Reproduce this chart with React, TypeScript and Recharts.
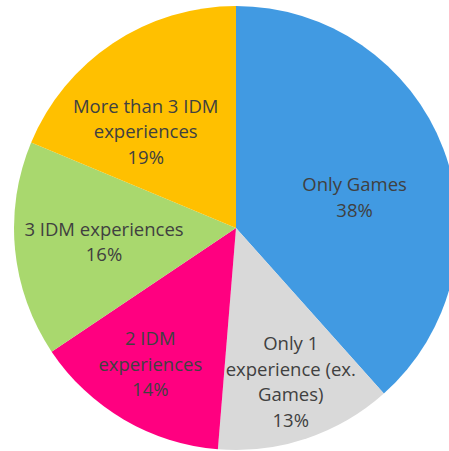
import { PieChart, Pie, Cell } from "recharts";

const categories = [
  "Only Games",
  "Only 1 experience (ex. Games)",
  "2 IDM experiences",
  "3 IDM experiences",
  "More than 3 IDM experiences",
];
const shares = [38.4, 12.9, 14.3, 15.7, 18.7];
const labelLines = [
  ["Only Games"],
  ["Only 1", "experience (ex.", "Games)"],
  ["2 IDM", "experiences"],
  ["3 IDM experiences"],
  ["More than 3 IDM", "experiences"],
];

const colors = ["#419ae2", "#d9d9d9", "#ff0080", "#a9d86e", "#ffc000"];
// small nudges so labels sit where the original placed them
const nudges = [
  [-10, 17],
  [11, 22],
  [-16, 16],
  [5, -1],
  [-14, 17],
];

const data = categories.map((name, i) => ({ name, value: shares[i] }));
const RADIAN = Math.PI / 180;
const LINE_H = 25.5;

function renderLabel(props: any) {
  const { cx, cy, midAngle, outerRadius, index, value } = props;
  const r = outerRadius * 0.62;
  const x = cx + r * Math.cos(-midAngle * RADIAN) + nudges[index][0];
  const y = cy + r * Math.sin(-midAngle * RADIAN) + nudges[index][1];
  const lines = [...labelLines[index], `${Math.round(value)}%`];
  const top = y - ((lines.length - 1) * LINE_H) / 2;
  return (
    <text
      x={x}
      y={top}
      fill="#404040"
      textAnchor="middle"
      dominantBaseline="central"
      style={{ fontFamily: "'Open Sans', sans-serif", fontSize: 18.5 }}
    >
      {lines.map((l, i) => (
        <tspan key={i} x={x} y={top + i * LINE_H}>
          {l}
        </tspan>
      ))}
    </text>
  );
}

export default function App() {
  return (
    <div style={{ position: "absolute", left: 0, top: 0, width: 449, height: 451, background: "#fff", overflow: "hidden" }}>
      <PieChart width={449} height={451} margin={{ top: 0, right: 0, bottom: 0, left: 0 }}>
        <Pie
          data={data}
          dataKey="value"
          nameKey="name"
          cx={236}
          cy={228}
          outerRadius={222}
          startAngle={90}
          endAngle={-270}
          stroke="none"
          label={renderLabel}
          labelLine={false}
          isAnimationActive={false}
        >
          {data.map((d, i) => (
            <Cell key={d.name} fill={colors[i]} />
          ))}
        </Pie>
      </PieChart>
    </div>
  );
}
